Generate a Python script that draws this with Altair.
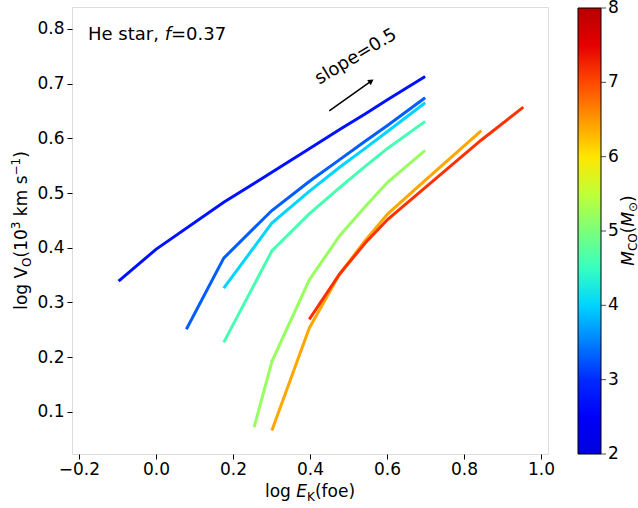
import altair as alt
import pandas as pd

# ---------------- data ----------------
masses = [2.85, 3.3, 4.0, 4.6, 5.2, 6.4, 7.15]
logE = [
    [-0.097, 0.0, 0.176, 0.301, 0.398, 0.477, 0.544, 0.602, 0.699],
    [0.079, 0.176, 0.301, 0.398, 0.477, 0.544, 0.602, 0.699],
    [0.176, 0.301, 0.398, 0.477, 0.544, 0.602, 0.699],
    [0.176, 0.301, 0.398, 0.477, 0.544, 0.602, 0.699],
    [0.255, 0.301, 0.398, 0.477, 0.544, 0.602, 0.699],
    [0.301, 0.398, 0.477, 0.544, 0.602, 0.699, 0.845],
    [0.398, 0.477, 0.544, 0.602, 0.699, 0.845, 0.954],
]
logV = [
    [0.339, 0.397, 0.483, 0.538, 0.581, 0.616, 0.645, 0.671, 0.713],
    [0.251, 0.381, 0.468, 0.521, 0.561, 0.595, 0.624, 0.674],
    [0.326, 0.445, 0.503, 0.547, 0.582, 0.613, 0.665],
    [0.227, 0.394, 0.462, 0.510, 0.549, 0.582, 0.631],
    [0.072, 0.192, 0.341, 0.422, 0.476, 0.520, 0.578],
    [0.066, 0.253, 0.352, 0.414, 0.462, 0.523, 0.614],
    [0.269, 0.352, 0.409, 0.452, 0.510, 0.597, 0.657],
]
x_ticks = [-0.2, 0.0, 0.2, 0.4, 0.6, 0.8, 1.0]
y_ticks = [0.1, 0.2, 0.3, 0.4, 0.5, 0.6, 0.7, 0.8]
cbar_ticks = [2, 3, 4, 5, 6, 7, 8]
x_domain = [-0.218, 1.018]
y_domain = [0.023, 0.84]

# jet-like colormap breakpoints mapped onto M_CO = 2..8
jet_t = [0, 0.11, 0.125, 0.34, 0.35, 0.375, 0.64, 0.65, 0.66, 0.89, 0.91, 1.0]
jet_c = ["#0000e0", "#0000ff", "#0000ff", "#00dbff", "#00e5f7", "#15ffe2",
         "#eeff08", "#f7f500", "#ffec00", "#ff1300", "#e80000", "#b80000"]
c_domain = [2 + 6 * t for t in jet_t]

rows = []
for m, xs_, ys_ in zip(masses, logE, logV):
    for i, (a, b) in enumerate(zip(xs_, ys_)):
        rows.append({"M": m, "E": a, "V": b, "i": i})
df = pd.DataFrame(rows)

W, H = 476, 447
FONT = "DejaVu Sans"
CB_X, CB_W = W + 30, 23

xs = alt.Scale(domain=x_domain, nice=False, zero=False)
ys = alt.Scale(domain=y_domain, nice=False, zero=False)

lines = alt.Chart(df).mark_line(strokeWidth=3, strokeCap="butt", clip=True).encode(
    x=alt.X("E:Q", scale=xs,
            axis=alt.Axis(values=x_ticks, format=".1f", title=None, grid=False,
                          domain=False, tickSize=5, tickColor="black",
                          labelFontSize=17, labelColor="black", labelPadding=2,
                          labelFont=FONT)),
    y=alt.Y("V:Q", scale=ys,
            axis=alt.Axis(values=y_ticks, format=".1f", title=None, grid=False,
                          domain=False, tickSize=5, tickColor="black",
                          labelFontSize=17, labelColor="black", labelPadding=3,
                          labelFont=FONT)),
    color=alt.Color("M:Q",
                    scale=alt.Scale(domain=c_domain, range=jet_c, interpolate="rgb"),
                    legend=alt.Legend(title=None, orient="none", legendX=CB_X, legendY=1,
                                      direction="vertical", gradientLength=H - 1,
                                      gradientThickness=CB_W, labelOpacity=0, labelFontSize=1,
                                      gradientStrokeColor="black", gradientStrokeWidth=1)),
    detail="M:N",
    order="i:Q",
)

# colorbar tick marks and labels
cb_scale = alt.Scale(domain=[2, 8], range=[H, 1])
cb_df = pd.DataFrame({"M": cbar_ticks})
cticks = alt.Chart(cb_df).mark_tick(
    orient="horizontal", color="black", thickness=1, size=5).encode(
    y=alt.Y("M:Q", scale=cb_scale, axis=None),
    x=alt.value(CB_X + CB_W + 2.5),
)
clabels = alt.Chart(cb_df).mark_text(
    align="left", baseline="middle", fontSize=17, font=FONT, color="black").encode(
    y=alt.Y("M:Q", scale=cb_scale, axis=None),
    x=alt.value(CB_X + CB_W + 7),
    text=alt.Text("M:Q", format="d"),
)

# ---------------- annotations ----------------
WID = {' ': 0.318, '(': 0.390, ')': 0.390, 'f': 0.352, 'o': 0.612, 'e': 0.615, 'l': 0.278,
       'g': 0.635, 'k': 0.579, 'm': 0.974, 's': 0.521, '1': 0.636, '0': 0.636, '3': 0.636,
       '7': 0.636, '.': 0.318, '=': 0.838, '−': 0.838, 'E': 0.632, 'K': 0.656, 'V': 0.684,
       'O': 0.787, 'M': 0.863, 'C': 0.698, '⊙': 0.838, 'H': 0.752, 't': 0.392, 'a': 0.613,
       'r': 0.411, ',': 0.318}


def tw(s, size):
    return sum(WID.get(ch, 0.6) for ch in s) * size


def pieces_layer(pieces, start, base, rotated=False):
    """pieces: (text, size, style, shift) ; shift > 0 moves the piece below the baseline."""
    out = []
    pos = start
    sign = -1 if rotated else 1
    for text, size, style, shift in pieces:
        lead = len(text) - len(text.lstrip(" "))
        pos += sign * lead * WID[' '] * size
        body = text.strip(" ")
        if body:
            if rotated:
                xx, yy = base + shift, pos
            else:
                xx, yy = pos, base + shift
            out.append(
                alt.Chart(pd.DataFrame({"t": [body]})).mark_text(
                    align="left", baseline="alphabetic", fontSize=size, font=FONT,
                    fontStyle=style, color="black", angle=270 if rotated else 0
                ).encode(x=alt.value(xx), y=alt.value(yy), text="t:N")
            )
        pos += sign * tw(text.lstrip(" "), size)
    return out


xt = [("log ", 17, "normal", 0), ("E", 17, "italic", 0), ("K", 12, "normal", 4),
      ("(foe)", 17, "normal", 0)]
xt_start = W / 2 - sum(tw(p[0], p[1]) for p in xt) / 2
yt = [("log ", 17, "normal", 0), ("V", 17, "normal", 0), ("O", 12, "normal", 4),
      ("(10", 17, "normal", 0), ("3", 12, "normal", -7), (" km s", 17, "normal", 0),
      ("−1", 12, "normal", -7), (")", 17, "normal", 0)]
yt_start = H / 2 + sum(tw(p[0], p[1]) for p in yt) / 2
ct = [("M", 17, "italic", 0), ("CO", 12, "normal", 3), ("(", 17, "normal", 0),
      ("M", 17, "italic", 0), ("⊙", 12, "normal", 3), (")", 17, "normal", 0)]
ct_start = H / 2 + sum(tw(p[0], p[1]) for p in ct) / 2
he = [("He star, ", 18, "normal", 0), ("f", 18, "italic", 0), ("=0.37", 18, "normal", 0)]

layers = []
layers += pieces_layer(xt, xt_start, 490)
layers += pieces_layer(yt, yt_start, -45, rotated=True)
layers += pieces_layer(ct, ct_start, 561.5, rotated=True)
layers += pieces_layer(he, 16, 33)

arrow_x, arrow_y = [0.45], [0.65]
arrow_x2, arrow_y2 = [0.556], [0.703]
head_x, head_y = [0.559], [0.7045]
slope_x, slope_y = [0.5195], [0.749]

arrow = alt.Chart(pd.DataFrame({"x": arrow_x, "y": arrow_y, "x2": arrow_x2, "y2": arrow_y2})).mark_rule(
    color="black", strokeWidth=1.5).encode(x=alt.X("x:Q", scale=xs), y=alt.Y("y:Q", scale=ys),
                                           x2="x2:Q", y2="y2:Q")
head = alt.Chart(pd.DataFrame({"x": head_x, "y": head_y})).mark_point(
    shape="triangle-right", filled=True, color="black", size=40, angle=325, opacity=1).encode(
    x=alt.X("x:Q", scale=xs), y=alt.Y("y:Q", scale=ys))
slope = alt.Chart(pd.DataFrame({"x": slope_x, "y": slope_y, "t": ["slope=0.5"]})).mark_text(
    fontSize=18, font=FONT, angle=329, align="center", baseline="middle", color="black").encode(
    x=alt.X("x:Q", scale=xs), y=alt.Y("y:Q", scale=ys), text="t:N")

main = alt.layer(lines, arrow, head, slope, *layers)
cbar = alt.layer(cticks, clabels)

chart = alt.layer(main, cbar).resolve_scale(y="independent").properties(
    width=W, height=H,
    autosize=alt.AutoSizeParams(type="none"),
    padding={"left": 72, "top": 7, "right": 638 - 72 - W, "bottom": 508 - 7 - H},
).configure_view(stroke="black", strokeWidth=1).configure(font=FONT, background="white")

chart.save("out.html", embed_options={"renderer": "svg", "actions": False})
